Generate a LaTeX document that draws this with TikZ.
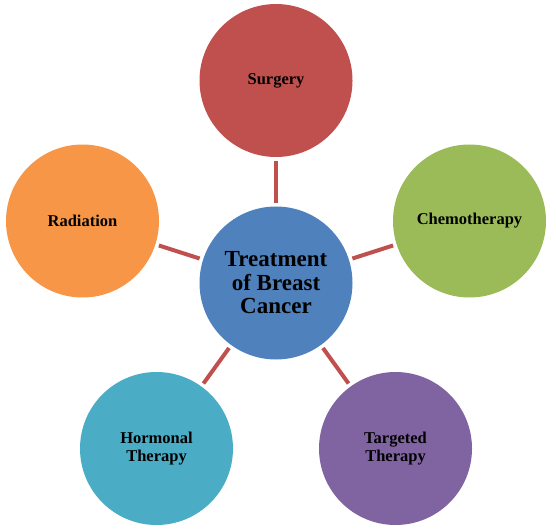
\documentclass[tikz,border=0pt]{standalone}
\usepackage{fontspec}
\setmainfont{Liberation Serif}
\definecolor{cred}{HTML}{C0504D}
\definecolor{cgreen}{HTML}{9BBB59}
\definecolor{cpurple}{HTML}{8064A2}
\definecolor{cteal}{HTML}{4BACC6}
\definecolor{corange}{HTML}{F79646}
\definecolor{cblue}{HTML}{4F81BD}
\begin{document}
\begin{tikzpicture}[x=1pt,y=-1pt,
  bubble/.style={circle,minimum size=153pt,inner sep=0pt,align=center,font=\bfseries\fontsize{16.5}{17.5}\selectfont},
  hub/.style={bubble,font=\bfseries\fontsize{23}{23.5}\selectfont},
  link/.style={draw=cred,line width=4pt,shorten <=3.5pt,shorten >=3.5pt}]
\useasboundingbox (0,0) rectangle (556,529);
\node[hub,fill=cblue] (c) at (276,283) {Treatment\\of Breast\\Cancer};
\node[bubble,fill=cred] (s) at (276,80.5) {Surgery};
\node[bubble,fill=cgreen] (ch) at (469.5,221) {Chemotherapy};
\node[bubble,fill=cpurple] (t) at (395.5,448.5) {Targeted\\Therapy};
\node[bubble,fill=cteal] (h) at (156.5,448.5) {Hormonal\\Therapy};
\node[bubble,fill=corange] (r) at (82.5,221) {Radiation};
\foreach \n in {s,ch,t,h,r} \draw[link] (c) -- (\n);
\end{tikzpicture}
\end{document}
